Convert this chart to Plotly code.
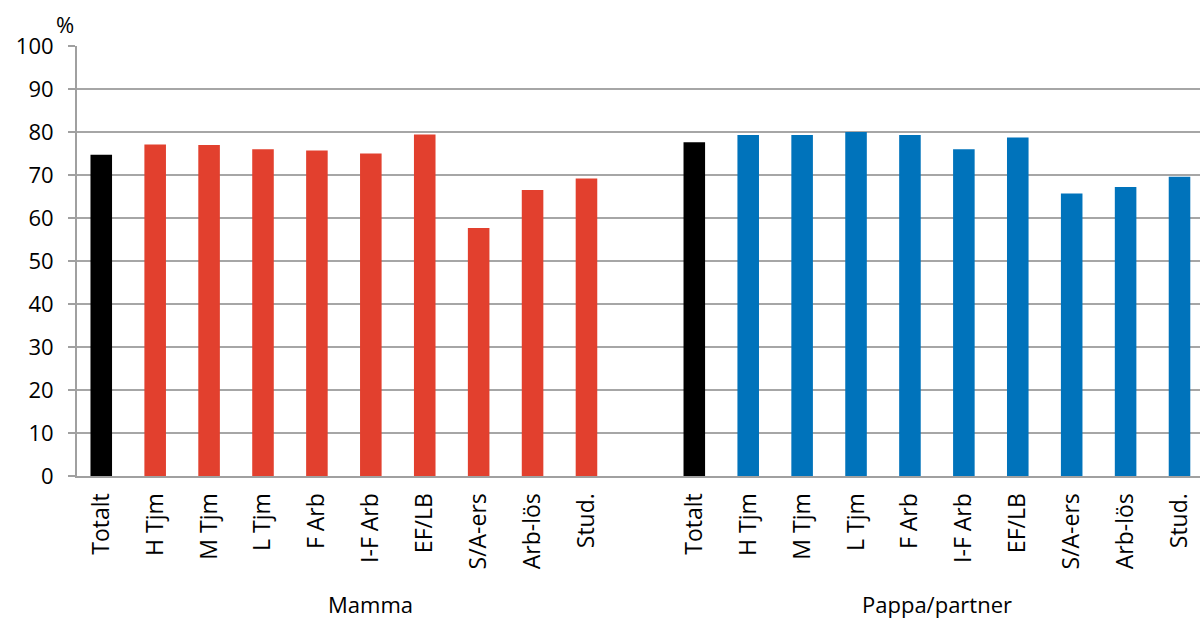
import plotly.graph_objects as go

categories = ["Totalt", "H Tjm", "M Tjm", "L Tjm", "F Arb", "I-F Arb", "EF/LB", "S/A-ers", "Arb-lös", "Stud."]
groups = ["Mamma", "Pappa/partner"]
mamma = [74.7, 77.1, 77.0, 76.0, 75.7, 75.0, 79.4, 57.7, 66.5, 69.2]
pappa = [77.6, 79.3, 79.3, 80.0, 79.3, 76.0, 78.7, 65.7, 67.2, 69.6]
yticks = [0, 10, 20, 30, 40, 50, 60, 70, 80, 90, 100]

RED = "#E2402E"
BLUE = "#0073BB"
FONT = "Open Sans"

n = len(categories)
x_m = list(range(n))
x_p = [n + 1 + i for i in range(n)]

fig = go.Figure()
fig.add_trace(go.Bar(x=x_m, y=mamma, width=0.4,
                     marker=dict(color=["#000000"] + [RED] * (n - 1), line=dict(width=0)),
                     showlegend=False))
fig.add_trace(go.Bar(x=x_p, y=pappa, width=0.4,
                     marker=dict(color=["#000000"] + [BLUE] * (n - 1), line=dict(width=0)),
                     showlegend=False))

fig.update_layout(
    width=1200, height=621,
    margin=dict(l=77, r=0, t=46, b=145),
    plot_bgcolor="white", paper_bgcolor="white",
    font=dict(family=FONT, size=22, color="#000000"),
)
fig.update_xaxes(
    range=[-0.45, 2 * n + 0.38],
    tickvals=x_m + x_p, ticktext=categories + categories,
    tickangle=-90, showgrid=False, zeroline=False,
    showline=True, linecolor="#A0A0A0", linewidth=2,
    ticks="", tickfont=dict(family=FONT, size=23),
    ticklabelstandoff=6,
)
fig.update_yaxes(
    range=[0, 100], tickvals=yticks, showgrid=True, gridcolor="#A6A6A6", gridwidth=2,
    zeroline=False, showline=True, linecolor="#A0A0A0", linewidth=2,
    ticks="outside", ticklen=7, tickcolor="#A0A0A0", tickwidth=2,
    tickfont=dict(family=FONT, size=22), ticklabelstandoff=10,
)

fig.add_annotation(text="%", xref="paper", yref="paper", x=0, y=1.0, xshift=-23, yshift=22,
                   xanchor="left", yanchor="middle", showarrow=False,
                   font=dict(family=FONT, size=22))
# group labels centred over each group's span (Mamma span includes the spacer slot)
fig.add_annotation(text=groups[0], xref="x", yref="paper", x=(x_m[0] + x_p[0] - 1) / 2, y=0,
                   yshift=-128, yanchor="middle", showarrow=False, font=dict(family=FONT, size=22))
fig.add_annotation(text=groups[1], xref="x", yref="paper", x=(x_p[0] + x_p[-1]) / 2, y=0,
                   yshift=-128, yanchor="middle", showarrow=False, font=dict(family=FONT, size=22))

fig.write_html("out.html")
